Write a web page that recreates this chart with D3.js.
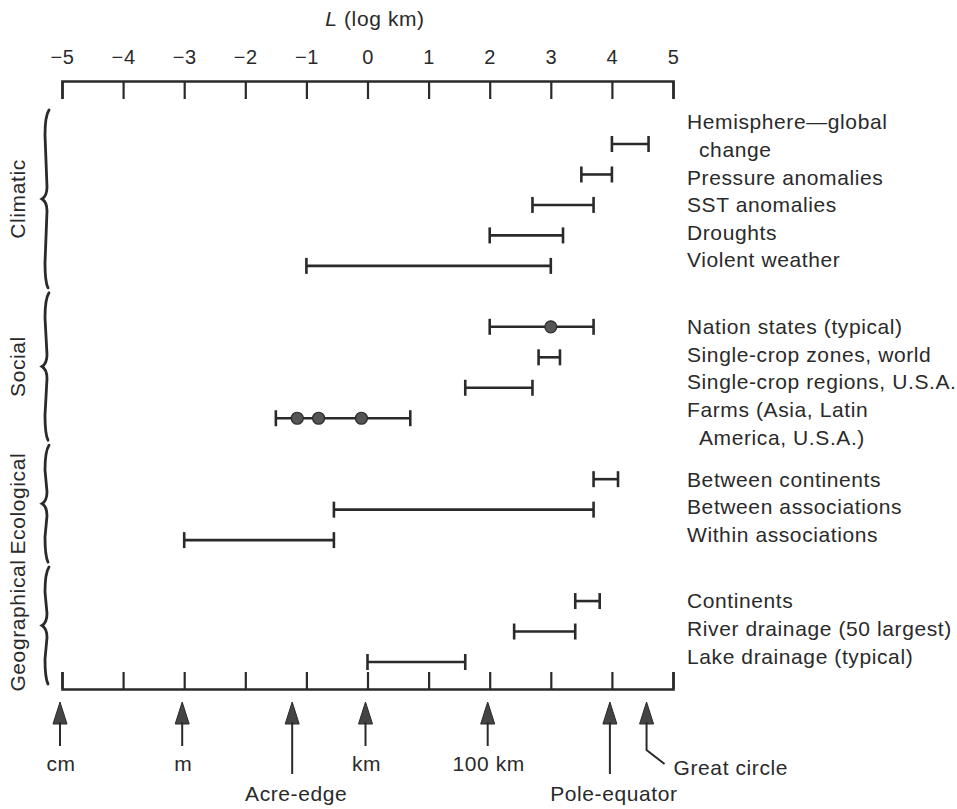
<!DOCTYPE html>
<html>
<head>
<meta charset="utf-8">
<script src="https://cdn.jsdelivr.net/npm/d3@7"></script>
<style>
  body { margin: 0; background: #fff; }
  svg { display: block; }
</style>
</head>
<body>
<script>
// chart settings
const width = 957;
const height = 809;
const ink = '#2a2a2a';
const font = '"Liberation Sans", Arial, sans-serif';
const fontSize = '21px';
const spacing = '0.6px';

// data
const groups = ['Climatic', 'Social', 'Ecological', 'Geographical'];
const rowGroup = [0, 0, 0, 0, 0, 1, 1, 1, 1, 2, 2, 2, 3, 3, 3];
const rowLabels = [
  ['Hemisphere\u2014global', 'change'],
  ['Pressure anomalies'],
  ['SST anomalies'],
  ['Droughts'],
  ['Violent weather'],
  ['Nation states (typical)'],
  ['Single-crop zones, world'],
  ['Single-crop regions, U.S.A.'],
  ['Farms (Asia, Latin', 'America, U.S.A.)'],
  ['Between continents'],
  ['Between associations'],
  ['Within associations'],
  ['Continents'],
  ['River drainage (50 largest)'],
  ['Lake drainage (typical)']
];
const rowLow = [4.0, 3.5, 2.7, 2.0, -1.0, 2.0, 2.8, 1.6, -1.5, 3.7, -0.55, -3.0, 3.4, 2.4, 0.0];
const rowHigh = [4.6, 4.0, 3.7, 3.2, 3.0, 3.7, 3.15, 2.7, 0.7, 4.1, 3.7, -0.55, 3.8, 3.4, 1.6];
// typical values marked with dots: [row, value]
const dots = [[5, 3.0], [8, -1.15], [8, -0.8], [8, -0.1]];
const ticks = [-5, -4, -3, -2, -1, 0, 1, 2, 3, 4, 5];
// reference lengths under the bottom axis
const refNames = ['cm', 'm', 'Acre-edge', 'km', '100 km', 'Pole-equator', 'Great circle'];
const refValues = [-5, -3, -1.2, 0, 2, 4, 4.6];
const refLong = [false, false, true, false, false, true, false];

const svg = d3.select('body')
  .append('svg')
  .attr('width', width)
  .attr('height', height)
  .style('font-family', font)
  .style('letter-spacing', spacing);

const x = d3.scaleLinear()
  .domain([-5, 5])
  .range([62, 673]);

// rows on a point scale, with an empty slot between groups
const slots = [];
rowGroup.forEach((g, i) => {
  if (i > 0 && g !== rowGroup[i - 1]) slots.push('gap' + g);
  slots.push('r' + i);
});
const y = d3.scalePoint()
  .domain(slots)
  .range([144, 662]);
const ry = i => y('r' + i);

const topY = 81;
const bottomY = 689;

// top axis
svg.append('g')
  .attr('transform', `translate(0,${topY})`)
  .call(d3.axisTop(x).tickValues(ticks).tickSizeInner(-18).tickSizeOuter(-18).tickPadding(17))
  .call(g => g.select('.domain').attr('stroke', ink).attr('stroke-width', 2.6))
  .call(g => g.selectAll('.tick line').attr('stroke', ink).attr('stroke-width', 2.2))
  .call(g => g.selectAll('.tick text')
    .attr('fill', ink)
    .style('font-family', font)
    .style('font-size', '20px'));

svg.append('text')
  .attr('x', 375)
  .attr('y', 26)
  .attr('text-anchor', 'middle')
  .attr('fill', ink)
  .style('font-size', fontSize)
  .call(t => t.append('tspan').attr('font-style', 'italic').text('L'))
  .call(t => t.append('tspan').text(' (log km)'));

// bottom axis, no labels
svg.append('g')
  .attr('transform', `translate(0,${bottomY})`)
  .call(d3.axisBottom(x).tickValues(ticks).tickSizeInner(-17).tickSizeOuter(-17).tickFormat(() => ''))
  .call(g => g.select('.domain').attr('stroke', ink).attr('stroke-width', 2.6))
  .call(g => g.selectAll('.tick line').attr('stroke', ink).attr('stroke-width', 2.2));

// range bars
const bars = svg.append('g')
  .attr('stroke', ink)
  .attr('stroke-width', 2.6);

bars.selectAll('line.bar')
  .data(rowLow)
  .enter()
  .append('line')
  .attr('class', 'bar')
  .attr('x1', d => x(d))
  .attr('x2', (d, i) => x(rowHigh[i]))
  .attr('y1', (d, i) => ry(i))
  .attr('y2', (d, i) => ry(i));

const caps = rowLow.flatMap((d, i) => [[i, d], [i, rowHigh[i]]]);
bars.selectAll('line.cap')
  .data(caps)
  .enter()
  .append('line')
  .attr('class', 'cap')
  .attr('x1', d => x(d[1]))
  .attr('x2', d => x(d[1]))
  .attr('y1', d => ry(d[0]) - 8)
  .attr('y2', d => ry(d[0]) + 8);

svg.append('g')
  .selectAll('circle')
  .data(dots)
  .enter()
  .append('circle')
  .attr('cx', d => x(d[1]))
  .attr('cy', d => ry(d[0]))
  .attr('r', 6)
  .attr('fill', '#555')
  .attr('stroke', ink)
  .attr('stroke-width', 1.2);

// row labels, set as a text block per group
const lineStep = 27.6;
const labelX = 687;
const labelLines = [];
groups.forEach((g, gi) => {
  const rows = d3.range(rowLabels.length).filter(i => rowGroup[i] === gi);
  let yy = ry(rows[0]) - (rowLabels[rows[0]].length - 1) * 22;
  rows.forEach(i => {
    rowLabels[i].forEach((t, k) => {
      labelLines.push({ text: t, y: yy, indent: k > 0 });
      yy += lineStep;
    });
  });
});

svg.append('g')
  .attr('fill', ink)
  .style('font-size', fontSize)
  .selectAll('text')
  .data(labelLines)
  .enter()
  .append('text')
  .attr('x', d => d.indent ? labelX + 12 : labelX)
  .attr('y', d => d.y)
  .attr('dy', '0.35em')
  .text(d => d.text);

// braces and group names on the left
const braceX = 46;
const brace = (y0, y1) => {
  const ym = (y0 + y1) / 2;
  return `M${braceX + 3},${y0} Q${braceX - 1},${y0 + 6} ${braceX - 1},${y0 + 25}
          L${braceX + 1},${ym - 12} Q${braceX + 1},${ym - 3} ${braceX - 4},${ym}
          Q${braceX + 1},${ym + 3} ${braceX + 1},${ym + 12}
          L${braceX - 1},${y1 - 25} Q${braceX - 1},${y1 - 6} ${braceX + 2},${y1}`;
};

const spans = groups.map((g, gi) => {
  const rows = d3.range(rowGroup.length).filter(i => rowGroup[i] === gi);
  return [ry(rows[0]) - 34, ry(rows[rows.length - 1]) + 22];
});

svg.append('g')
  .selectAll('path')
  .data(spans)
  .enter()
  .append('path')
  .attr('d', d => brace(d[0], d[1]))
  .attr('fill', 'none')
  .attr('stroke', ink)
  .attr('stroke-width', 2.8)
  .attr('stroke-linecap', 'round');

svg.append('g')
  .attr('fill', ink)
  .style('font-size', fontSize)
  .selectAll('text')
  .data(groups)
  .enter()
  .append('text')
  .attr('transform', (d, i) => `translate(18,${(spans[i][0] + spans[i][1]) / 2}) rotate(-90)`)
  .attr('text-anchor', 'middle')
  .attr('dy', '0.35em')
  .text(d => d);

// reference arrows under the bottom axis
const tipY = 702;
const arrows = svg.append('g');
refValues.forEach((v, i) => {
  const ax = x(v) - 2;
  const a = arrows.append('g');
  a.append('path')
    .attr('d', `M${ax},${tipY} L${ax - 7},${tipY + 22} L${ax + 7},${tipY + 22} Z`)
    .attr('fill', '#444')
    .attr('stroke', ink)
    .attr('stroke-width', 1);
  const name = refNames[i];
  if (name === 'Great circle') {
    a.append('path')
      .attr('d', `M${ax},${tipY + 20} L${ax},${tipY + 48} L${ax + 18},${tipY + 62}`)
      .attr('fill', 'none')
      .attr('stroke', ink)
      .attr('stroke-width', 2);
    a.append('text')
      .attr('x', ax + 27)
      .attr('y', 775)
      .attr('fill', ink)
      .style('font-size', fontSize)
      .text(name);
  } else {
    const end = refLong[i] ? 774 : 746;
    a.append('line')
      .attr('x1', ax).attr('x2', ax)
      .attr('y1', tipY + 20).attr('y2', end)
      .attr('stroke', ink)
      .attr('stroke-width', 2);
    a.append('text')
      .attr('x', refLong[i] ? ax + 4 : ax + 1)
      .attr('y', refLong[i] ? 801 : 771)
      .attr('text-anchor', 'middle')
      .attr('fill', ink)
      .style('font-size', fontSize)
      .text(name);
  }
});
</script>
</body>
</html>
